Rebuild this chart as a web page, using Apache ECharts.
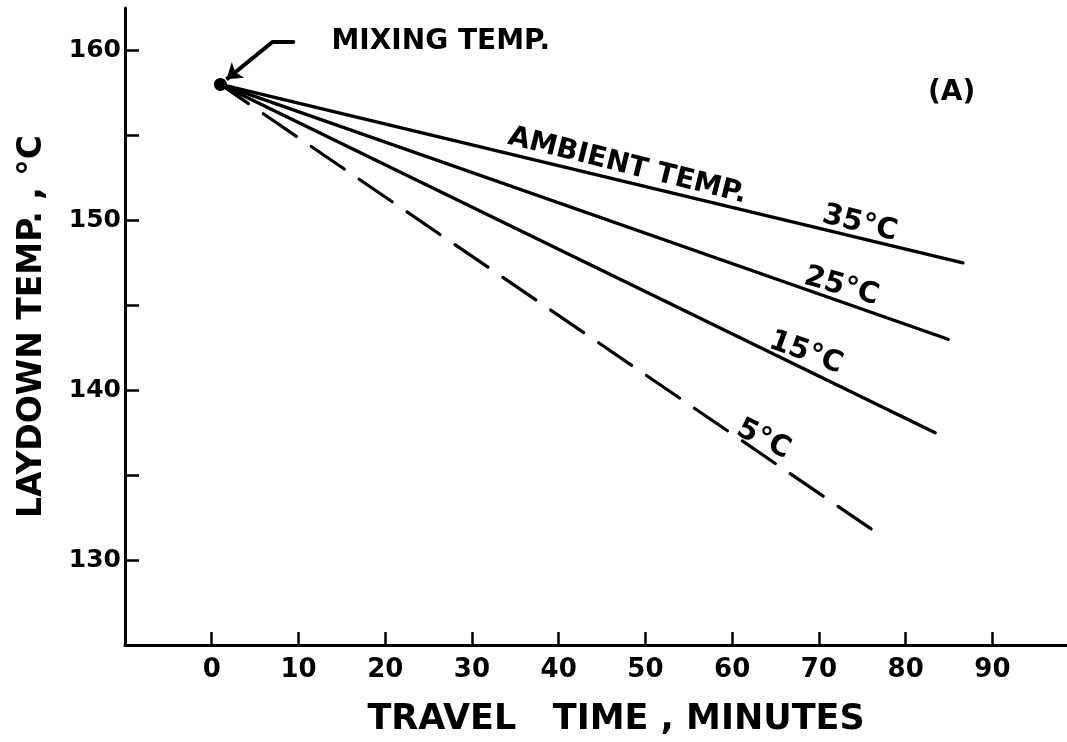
<!DOCTYPE html>
<html>
<head>
<meta charset="utf-8">
<title>Laydown temperature vs travel time</title>
<script src="https://cdn.jsdelivr.net/npm/echarts@6/dist/echarts.min.js"></script>
<style>
  html, body { margin: 0; padding: 0; background: #fff; }
  #chart { width: 1067px; height: 742px; }
</style>
</head>
<body>
<div id="chart"></div>
<script>
// Axis ranges and tick marks (travel time in minutes, laydown temperature in °C)
const xMin = -10, xMax = 98.6;
const yMin = 125, yMax = 162.5;
const xTickValues = [0, 10, 20, 30, 40, 50, 60, 70, 80, 90];
const yTickValues = [130, 135, 140, 145, 150, 155, 160];
const yLabelValues = [130, 140, 150, 160];

// Mix leaves the plant at the mixing temperature, then cools in transit
const mixingPoint = [1, 158];
const ambient35 = [[1, 158], [86.6, 147.5]];
const ambient25 = [[1, 158], [84.9, 143.0]];
const ambient15 = [[1, 158], [83.4, 137.5]];
const ambient5  = [[1, 158], [76.4, 131.7]];

// Leader from the "MIXING TEMP." note to the starting point
const leaderPath = [[9.4, 160.5], [7.0, 160.5]];
const leaderArrow = [[7.0, 160.5], [1.7, 158.3]];

// Text notes placed in data coordinates
const noteTexts  = ['MIXING TEMP.', '(A)', 'AMBIENT TEMP.', '35°C', '25°C', '15°C', '5°C'];
const notePoints = [[26.4, 160.5], [85.3, 157.5], [47.9, 153.2], [74.7, 149.8], [72.6, 146.1], [68.5, 142.2], [63.6, 137.1]];
const noteAngles = [0, 0, -14, -14, -16, -20, -26];
const noteSizes  = [28, 28, 28, 29, 29, 29, 29];

const INK = '#000';
const FONT = 'DejaVu Sans';

const chart = echarts.init(document.getElementById('chart'), null, { renderer: 'canvas' });

function curve(data, dashed) {
  return {
    type: 'line',
    data: data,
    showSymbol: false,
    silent: true,
    z: 3,
    lineStyle: dashed
      ? { color: INK, width: 3.2, type: [40, 18], dashOffset: 6, cap: 'round' }
      : { color: INK, width: 3.4, cap: 'round' }
  };
}

chart.setOption({
  backgroundColor: '#fff',
  animation: false,
  grid: { left: 125, right: 0, top: 8, bottom: 97, containLabel: false },
  xAxis: {
    type: 'value',
    min: xMin,
    max: xMax,
    name: 'TRAVEL   TIME , MINUTES',
    nameLocation: 'middle',
    nameGap: 57,
    nameTextStyle: { color: INK, fontFamily: FONT, fontWeight: 'bold', fontSize: 35, padding: [0, 0, 0, 40] },
    axisLine: { show: true, onZero: false, lineStyle: { color: INK, width: 3 } },
    axisTick: { show: true, inside: true, length: 13, customValues: xTickValues, lineStyle: { color: INK, width: 2.5 } },
    axisLabel: { show: true, customValues: xTickValues, margin: 12, color: INK, fontFamily: FONT, fontWeight: 'bold', fontSize: 26 },
    splitLine: { show: false }
  },
  yAxis: {
    type: 'value',
    min: yMin,
    max: yMax,
    name: 'LAYDOWN TEMP. , °C',
    nameLocation: 'middle',
    nameRotate: 90,
    nameGap: 76,
    nameTextStyle: { color: INK, fontFamily: FONT, fontWeight: 'bold', fontSize: 33 },
    axisLine: { show: true, onZero: false, lineStyle: { color: INK, width: 3 } },
    axisTick: { show: true, inside: true, length: 14, customValues: yTickValues, lineStyle: { color: INK, width: 2.5 } },
    axisLabel: {
      show: true, customValues: yLabelValues, margin: 4,
      color: INK, fontFamily: FONT, fontWeight: 'bold', fontSize: 25,
      verticalAlign: 'middle', padding: [0, 0, 22, 0]
    },
    splitLine: { show: false }
  },
  series: [
    curve(ambient35, false),
    curve(ambient25, false),
    curve(ambient15, false),
    curve(ambient5, true),
    {
      type: 'scatter',
      data: [mixingPoint],
      symbol: 'circle',
      symbolSize: 13,
      itemStyle: { color: INK, opacity: 1 },
      silent: true,
      z: 4
    },
    {
      type: 'line',
      data: leaderPath,
      showSymbol: false,
      silent: true,
      lineStyle: { color: INK, width: 4, cap: 'round' }
    },
    {
      type: 'lines',
      coordinateSystem: 'cartesian2d',
      data: [{ coords: leaderArrow }],
      symbol: ['none', 'arrow'],
      symbolSize: 15,
      silent: true,
      lineStyle: { color: INK, width: 4, opacity: 1, curveness: 0 }
    },
    {
      type: 'scatter',
      symbolSize: 0,
      silent: true,
      z: 5,
      itemStyle: { color: INK, opacity: 1 },
      data: noteTexts.map((t, i) => ({
        name: t,
        value: notePoints[i],
        label: { rotate: noteAngles[i], fontSize: noteSizes[i] }
      })),
      label: {
        show: true,
        position: 'inside',
        formatter: p => p.name,
        color: INK,
        opacity: 1,
        fontFamily: FONT,
        fontWeight: 'bold',
        fontSize: 28
      }
    }
  ]
});
</script>
</body>
</html>
